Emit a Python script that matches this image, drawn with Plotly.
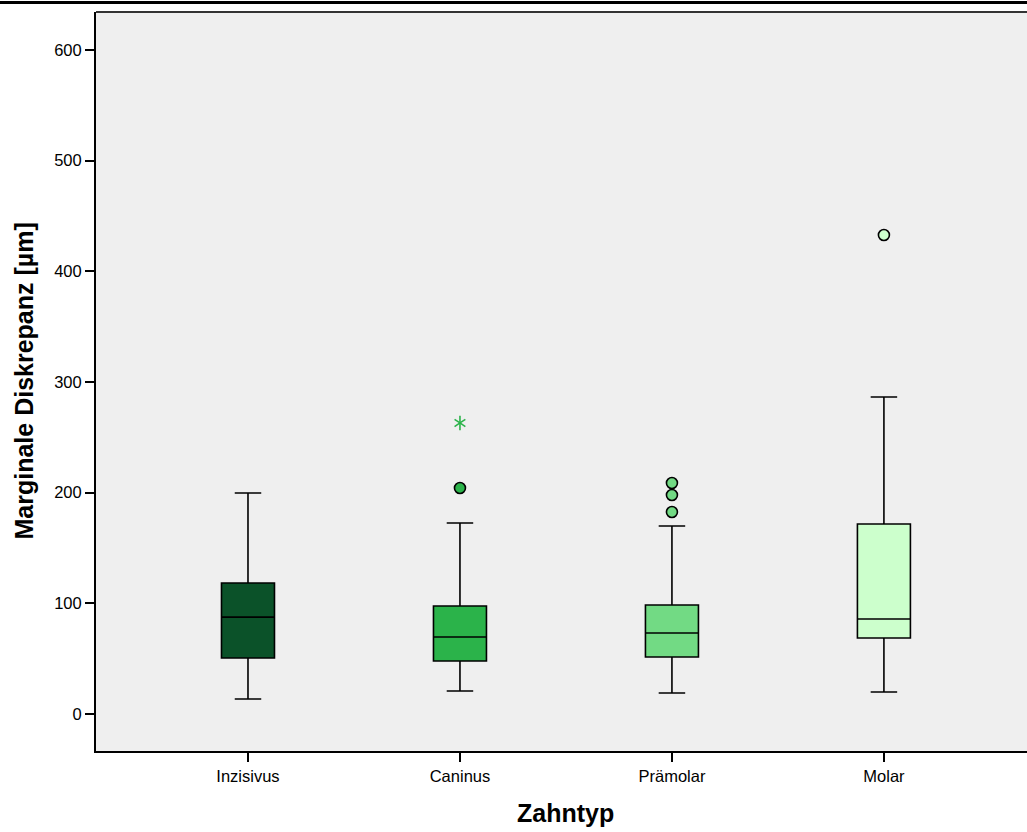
import plotly.graph_objects as go

categories = ["Inzisivus", "Caninus", "Prämolar", "Molar"]
lower_whisker = [13.6, 20.8, 19.0, 19.9]
q1 = [50.6, 47.9, 51.5, 68.7]
median = [87.6, 69.6, 73.2, 85.8]
q3 = [118.4, 97.6, 98.5, 171.7]
upper_whisker = [199.7, 172.6, 169.9, 286.4]
box_colors = ["#0b5229", "#2bb34a", "#72da84", "#ccffcc"]

# outliers (circles) and extremes (stars)
outlier_cat = [1, 2, 2, 2, 3]
outlier_val = [204.2, 208.7, 197.9, 182.5, 432.8]
extreme_cat = [1]
extreme_val = [263.0]

y_ticks = [0, 100, 200, 300, 400, 500, 600]

fig = go.Figure()
for i, cat in enumerate(categories):
    fig.add_trace(go.Box(
        x=[i], q1=[q1[i]], median=[median[i]], q3=[q3[i]],
        lowerfence=[lower_whisker[i]], upperfence=[upper_whisker[i]],
        width=0.25, whiskerwidth=0.5,
        fillcolor=box_colors[i], line=dict(color="black", width=1.6),
        boxpoints=False, name=cat, showlegend=False, hoverinfo="skip",
    ))

fig.add_trace(go.Scatter(
    x=outlier_cat, y=outlier_val, mode="markers",
    marker=dict(symbol="circle", size=11,
                color=[box_colors[c] for c in outlier_cat],
                line=dict(color="black", width=1.6)),
    showlegend=False, hoverinfo="skip",
))
star_colors = [box_colors[c] for c in extreme_cat]
for sym in ["y-up-open", "y-down-open"]:
    fig.add_trace(go.Scatter(
        x=extreme_cat, y=extreme_val, mode="markers",
        marker=dict(symbol=sym, size=9, color=star_colors,
                    line=dict(color=star_colors, width=1.6)),
        showlegend=False, hoverinfo="skip",
    ))

font_family = "Liberation Sans, Arial, sans-serif"
fig.update_layout(
    width=1027, height=832,
    margin=dict(l=96, r=0, t=12, b=81),
    paper_bgcolor="white", plot_bgcolor="#efefef",
    boxmode="overlay",
    font=dict(family=font_family, size=16, color="black"),
    xaxis=dict(
        range=[-0.717, 3.675], tickvals=list(range(len(categories))),
        ticktext=categories, ticks="outside", ticklen=9, tickwidth=2,
        tickcolor="black", showline=True, linecolor="black", linewidth=2,
        showgrid=False, zeroline=False, tickfont=dict(size=16.5),
    ),
    yaxis=dict(
        range=[-33.4, 634.3], tickvals=y_ticks, ticks="outside", ticklen=9,
        tickwidth=2, tickcolor="black", showline=True, linecolor="black",
        linewidth=2, showgrid=False, zeroline=False, tickfont=dict(size=16.5),
    ),
    shapes=[
        dict(type="line", xref="paper", yref="paper", x0=0, x1=1, y0=1, y1=1,
             line=dict(color="#333333", width=2)),
        dict(type="line", xref="paper", yref="paper", x0=-0.2, x1=1.1,
             y0=1 + 9.5 / 739, y1=1 + 9.5 / 739,
             line=dict(color="black", width=3)),
    ],
    annotations=[
        dict(text="<b>Zahntyp</b>", xref="x", yref="paper", x=1.5,
             y=-62 / 739, xanchor="center", yanchor="middle", showarrow=False,
             font=dict(size=25, family=font_family)),
        dict(text="<b>Marginale Diskrepanz [µm]</b>", xref="paper", yref="paper",
             x=-73 / 931, y=0.5, xanchor="center", yanchor="middle",
             textangle=-90, showarrow=False,
             font=dict(size=25, family=font_family)),
    ],
)

fig.write_html("out.html", config={"displayModeBar": False},
               post_script="document.body.style.margin='0';document.body.style.overflow='hidden';")
